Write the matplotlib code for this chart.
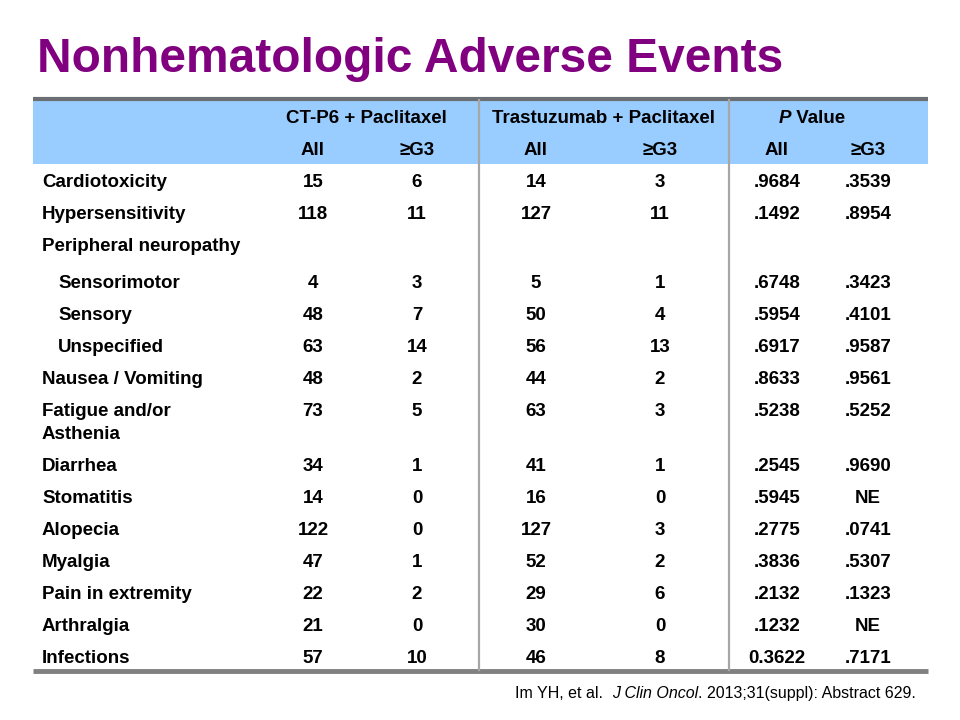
import matplotlib
matplotlib.use("Agg")
import matplotlib.pyplot as plt
from matplotlib.patches import Rectangle

title = "Nonhematologic Adverse Events"
groups = ["CT-P6 + Paclitaxel", "Trastuzumab + Paclitaxel"]
pvalue_parts = [("P", "italic"), (" Value", "normal")]
subheaders = ["All", "≥G3", "All", "≥G3", "All", "≥G3"]

events = ["Cardiotoxicity", "Hypersensitivity", "Peripheral neuropathy",
          "Sensorimotor", "Sensory", "Unspecified", "Nausea / Vomiting",
          "Fatigue and/or\nAsthenia", "Diarrhea", "Stomatitis", "Alopecia",
          "Myalgia", "Pain in extremity", "Arthralgia", "Infections"]
indented = [False, False, False, True, True, True, False, False, False,
            False, False, False, False, False, False]
ctp6_all = ["15", "118", "", "4", "48", "63", "48", "73", "34", "14", "122", "47", "22", "21", "57"]
ctp6_g3 = ["6", "11", "", "3", "7", "14", "2", "5", "1", "0", "0", "1", "2", "0", "10"]
tras_all = ["14", "127", "", "5", "50", "56", "44", "63", "41", "16", "127", "52", "29", "30", "46"]
tras_g3 = ["3", "11", "", "1", "4", "13", "2", "3", "1", "0", "3", "2", "6", "0", "8"]
p_all = [".9684", ".1492", "", ".6748", ".5954", ".6917", ".8633", ".5238", ".2545", ".5945",
         ".2775", ".3836", ".2132", ".1232", "0.3622"]
p_g3 = [".3539", ".8954", "", ".3423", ".4101", ".9587", ".9561", ".5252", ".9690", "NE",
        ".0741", ".5307", ".1323", "NE", ".7171"]
footnote_parts = [("Im YH, et al.  ", "normal"), ("J Clin Oncol", "italic"),
                  (". 2013;31(suppl): Abstract 629.", "normal")]

plt.rcParams['font.family'] = ['Liberation Sans', 'DejaVu Sans']
fig = plt.figure(figsize=(9.6, 7.2), dpi=100)
ax = fig.add_axes([0, 0, 1, 1])
ax.set_xlim(0, 960)
ax.set_ylim(720, 0)
ax.axis("off")
fig.canvas.draw()
renderer = fig.canvas.get_renderer()
inv = ax.transData.inverted()


def width_of(t):
    bb = t.get_window_extent(renderer=renderer)
    p0 = inv.transform((bb.x0, bb.y0))
    p1 = inv.transform((bb.x1, bb.y0))
    return p1[0] - p0[0]


def draw_parts(x, y, parts, anchor, **kw):
    texts = [ax.text(0, y, p, style=st, ha="left", va="baseline", **kw) for p, st in parts]
    ws = [width_of(t) for t in texts]
    total = sum(ws)
    start = x - total if anchor == "right" else x - total / 2
    for t, w in zip(texts, ws):
        t.set_x(start)
        start += w


# Title
ax.text(37, 72, title, color="#800080", fontsize=34.5, fontweight="bold",
        ha="left", va="baseline")

# Header band
left, right = 33, 928
ax.add_patch(Rectangle((left, 99), right - left, 65, facecolor="#99CCFF", edgecolor="none"))
ax.plot([left, right], [99, 99], color="#6b6f74", lw=3, solid_capstyle="butt")
ax.plot([left, right], [671, 671], color="#808080", lw=3.5, solid_capstyle="butt")
for xv in (479, 729):
    ax.plot([xv, xv], [100, 670], color="#a6a6a6", lw=1.6)

fs = 13.5
off = 6.7
group_x = [366, 604]
for gx, g in zip(group_x, groups):
    ax.text(gx, 116 + off, g, fontsize=fs, fontweight="bold", ha="center", va="baseline")
draw_parts(812, 116 + off, pvalue_parts, "center", fontsize=fs, fontweight="bold")

col_x = [313, 417, 536, 660, 777, 868]
for cx, s in zip(col_x, subheaders):
    ax.text(cx, 148 + off, s, fontsize=fs, fontweight="bold", ha="center", va="baseline")

row_y = [180, 212, 244, 281, 313, 345, 377, 409, 464, 496, 528, 560, 592, 624, 656]
cols = [ctp6_all, ctp6_g3, tras_all, tras_g3, p_all, p_g3]
for i, ev in enumerate(events):
    y = row_y[i]
    x0 = 58 if indented[i] else 42
    lines = ev.split("\n")
    for k, ln in enumerate(lines):
        ax.text(x0, y + off + 23 * k, ln, fontsize=fs, fontweight="bold",
                ha="left", va="baseline")
    for cx, col in zip(col_x, cols):
        if col[i]:
            ax.text(cx, y + off, col[i], fontsize=fs, fontweight="bold",
                    ha="center", va="baseline")

# Footnote (right-aligned, mixed italic)
draw_parts(916, 698, footnote_parts, "right", fontsize=11.5)

fig.savefig("out.png", dpi=100, facecolor="white")
